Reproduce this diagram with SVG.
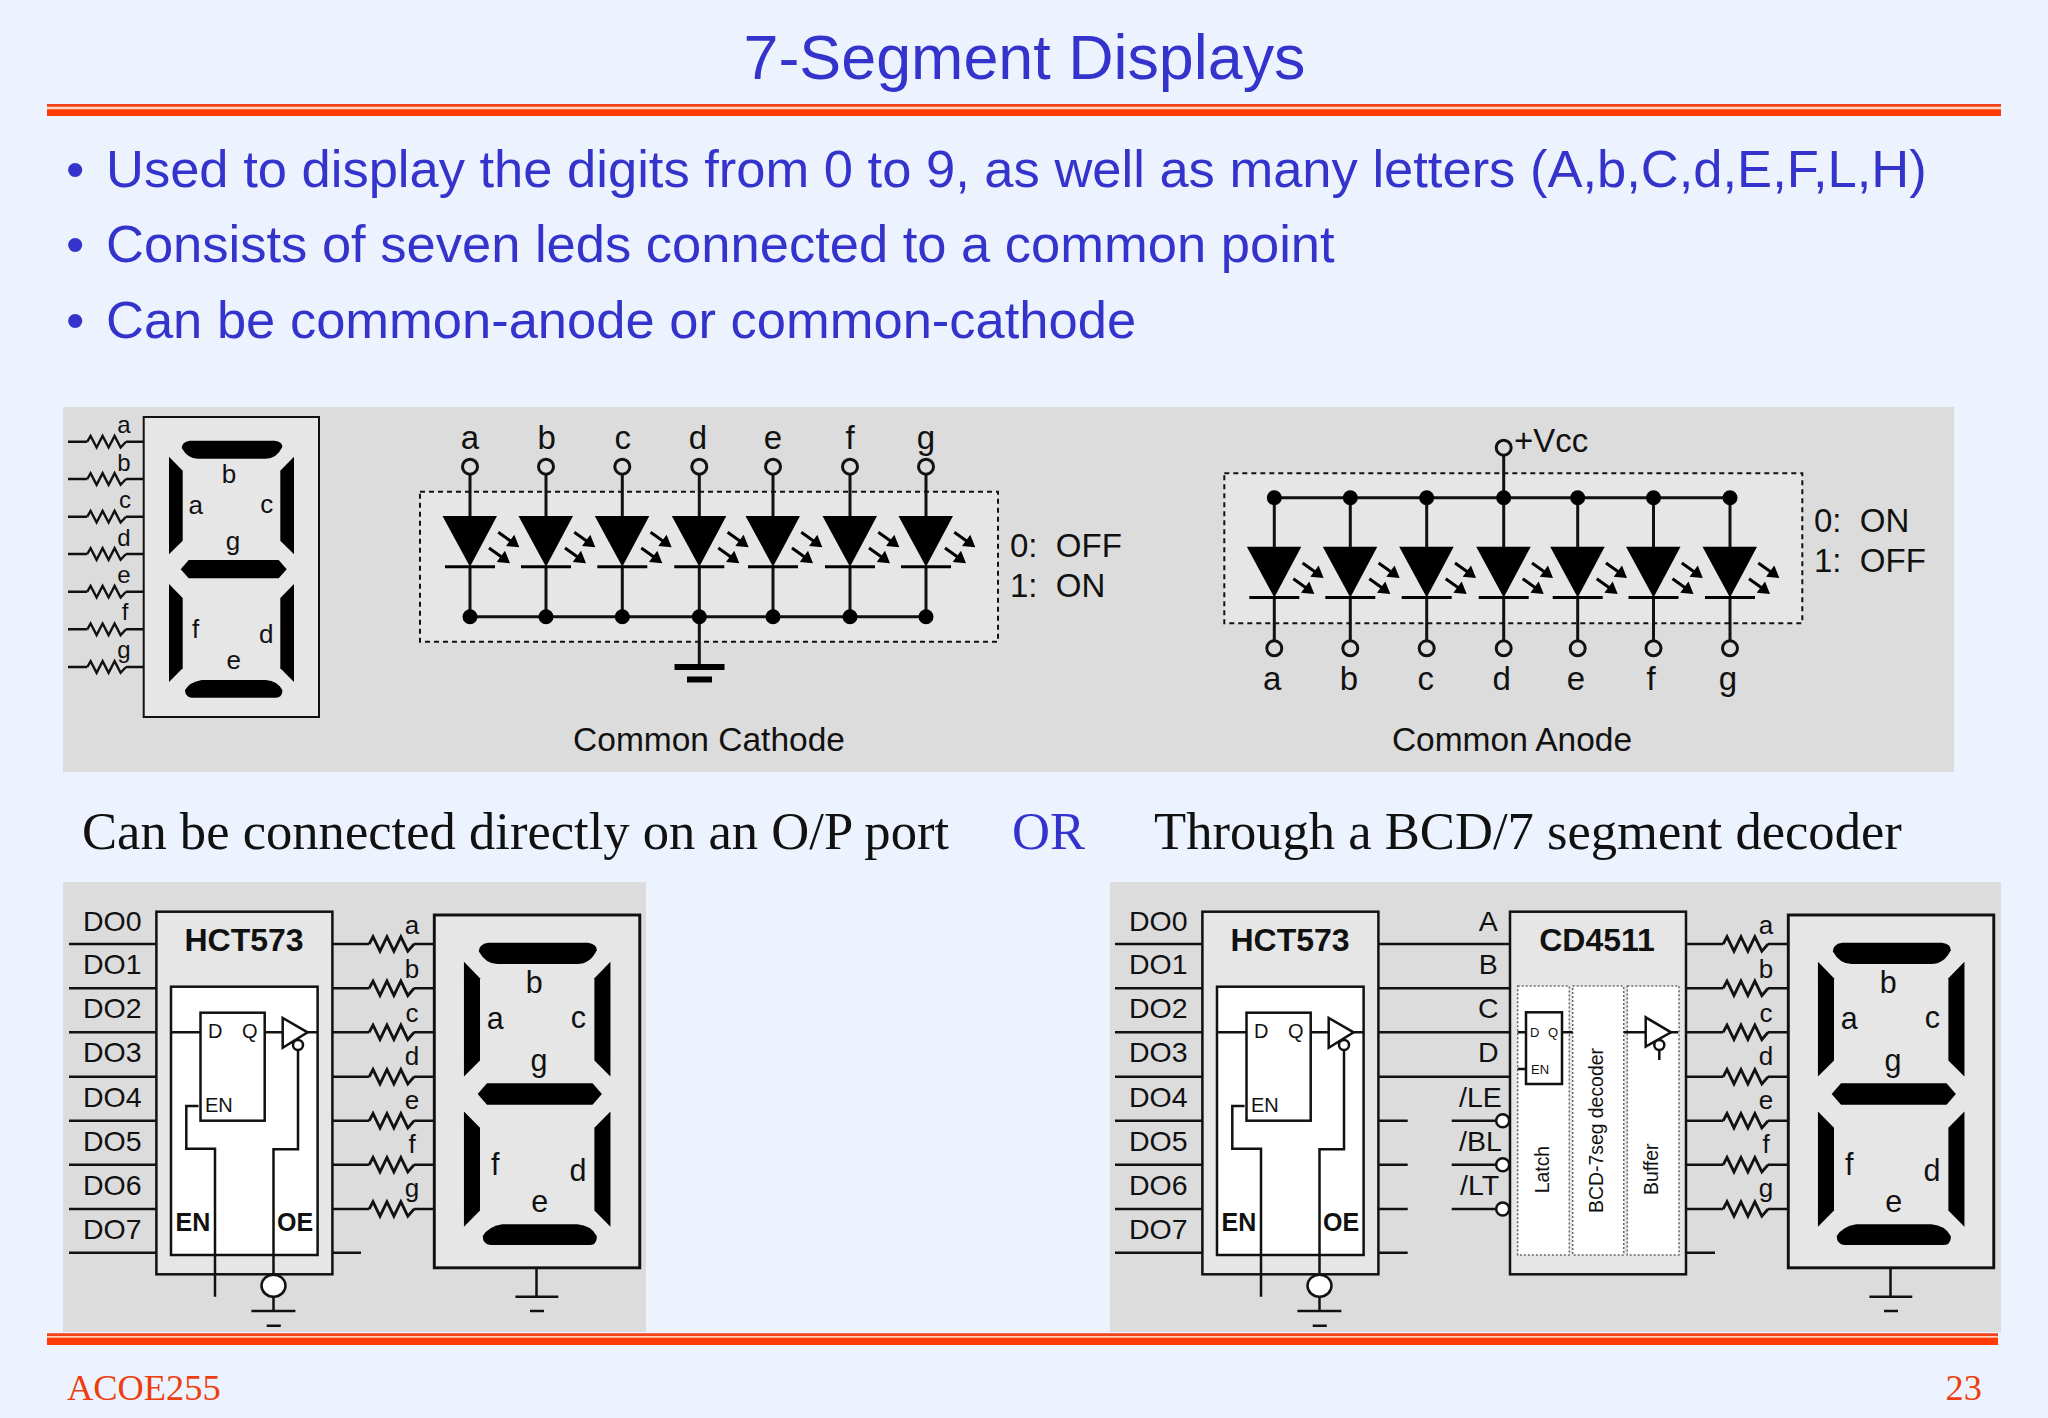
<svg xmlns="http://www.w3.org/2000/svg" xmlns:xlink="http://www.w3.org/1999/xlink" width="2048" height="1418" viewBox="0 0 2048 1418">
<style>
text{font-family:"Liberation Sans",Arial,sans-serif;fill:#111;white-space:pre}
.tm{font-family:"Liberation Serif","Times New Roman",serif}
.blue{fill:#3434cc}
.red{fill:#ee3e10}
.m{text-anchor:middle}
.b{font-weight:bold}
.w{fill:none;stroke:#111;stroke-width:3}
.t{fill:none;stroke:#111;stroke-width:2.5}
.box{fill:#e6e6e6;stroke:#111;stroke-width:2.5}
.wbox{fill:#fff;stroke:#111;stroke-width:2.5}
.dash{fill:#e6e6e6;stroke:#111;stroke-width:2;stroke-dasharray:5 4}
.dot{fill:#fff;stroke:#666;stroke-width:1.5;stroke-dasharray:2 2}
.wpin{fill:#fff;stroke:#111;stroke-width:2.5}
.l33{font-size:33px}.l335{font-size:33.5px}.l24{font-size:24px}.l26{font-size:26px}.l285{font-size:28.5px}.l32{font-size:32px}.l25{font-size:25px}
</style>
<defs>
<g id="segs" fill="#000">
<path d="M46,23.7H131Q139,25 138.6,30Q133,41.7 122,41.7H54Q44,41.7 38,31Q38,25 46,23.7Z"/>
<path d="M25.3,39.7L39,53.7V123.7L25.3,137.3Z"/>
<path d="M150.3,39.7L136.6,53.7V123.7L150.3,137.3Z"/>
<path d="M37,152.3L45,143H135L143,152.3L135,161.3H45Z"/>
<path d="M25.3,167L39,181V251.3L25.3,265Z"/>
<path d="M150.3,167L136.6,181V251.3L150.3,265Z"/>
<path d="M58,263H122Q134,264 138.6,273V275Q138,280.7 132,280.7H48Q41.3,280 41.3,273Q46,265 58,263Z"/>
</g>
<path id="res" fill="none" stroke="#111" stroke-width="2.4" d="M0,0L3.3,-5.8L9.3,5.8L15.3,-5.8L21.3,5.8L27.3,-5.8L33.3,5.8L38.7,0"/>
<g id="led">
<path d="M-27.5,0H27L0,50.7Z" fill="#000"/>
<path d="M-25,50.7H25" stroke="#000" stroke-width="3" fill="none"/>
<path d="M28.3,16.3L42,26M19,32L33,42" stroke="#000" stroke-width="3" fill="none"/>
<path d="M49.3,31.3L36,30L44.3,18.7ZM40,47.3L26.7,46L35,34.7Z" fill="#000"/>
</g>
</defs>
<rect width="2048" height="1418" fill="#edf3fe"/>
<g id="title">
<text class="blue m" x="1024.5" y="79" style="font-size:62.8px">7-Segment Displays</text>
<rect x="47" y="104" width="1954" height="12" fill="#fbd5bb"/>
<rect x="47" y="104" width="1954" height="2.7" fill="#f2401a"/>
<rect x="47" y="109.3" width="1954" height="6.7" fill="#ff3a08"/>
</g>
<g id="bullets" style="font-size:52.5px">
<text class="blue" x="66" y="187">•</text><text class="blue" x="106" y="187">Used to display the digits from 0 to 9, as well as many letters (A,b,C,d,E,F,L,H)</text>
<text class="blue" x="66" y="262">•</text><text class="blue" x="106" y="262">Consists of seven leds connected to a common point</text>
<text class="blue" x="66" y="338">•</text><text class="blue" x="106" y="338">Can be common-anode or common-cathode</text>
</g>
<rect id="panel-top" x="63" y="407" width="1891" height="365" fill="#dcdcdc"/>
<rect id="panel-bl" x="63" y="882" width="583" height="450" fill="#dcdcdc"/>
<rect id="panel-br" x="1110" y="882" width="891" height="450" fill="#dcdcdc"/>

<g id="connectors-top-display">
<path class="t" d="M68,441.7H87.3M126,441.7H144M68,479H87.3M126,479H144M68,516.7H87.3M126,516.7H144M68,554H87.3M126,554H144M68,591.7H87.3M126,591.7H144M68,629.3H87.3M126,629.3H144M68,667H87.3M126,667H144"/>
<use xlink:href="#res" href="#res" x="87.3" y="441.7"/><use xlink:href="#res" href="#res" x="87.3" y="479"/><use xlink:href="#res" href="#res" x="87.3" y="516.7"/><use xlink:href="#res" href="#res" x="87.3" y="554"/><use xlink:href="#res" href="#res" x="87.3" y="591.7"/><use xlink:href="#res" href="#res" x="87.3" y="629.3"/><use xlink:href="#res" href="#res" x="87.3" y="667"/>
</g>
<g id="res-labels-top" class="l24">
<text class="m" x="124" y="433">a</text><text class="m" x="124" y="470.7">b</text><text class="m" x="125" y="508">c</text><text class="m" x="124" y="545.7">d</text><text class="m" x="124" y="582.7">e</text><text class="m" x="125" y="620">f</text><text class="m" x="124" y="657.5">g</text>
</g>
<g id="display-top" transform="translate(143.7,417)" class="l26">
<rect class="box" width="175.3" height="300" style="stroke-width:2"/><use xlink:href="#segs" href="#segs"/>
<text class="m" x="85.3" y="66.3">b</text><text class="m" x="52" y="97.3">a</text><text class="m" x="123" y="96.3">c</text><text class="m" x="89.3" y="133">g</text><text class="m" x="52" y="220.7">f</text><text class="m" x="122.6" y="226.3">d</text><text class="m" x="90" y="252.3">e</text>
</g>

<g id="common-cathode">
<rect class="dash" x="420" y="491.7" width="578" height="150"/>
<path class="w" d="M470,475V516M546,475V516M622.3,475V516M699.3,475V516M773,475V516M850,475V516M926,475V516M470,566V617M546,566V617M622.3,566V617M699.3,566V667M773,566V617M850,566V617M926,566V617M470,616.7H926"/>
<g fill="#000"><circle cx="470" cy="616.7" r="7.5"/><circle cx="546" cy="616.7" r="7.5"/><circle cx="622.3" cy="616.7" r="7.5"/><circle cx="699.3" cy="616.7" r="7.5"/><circle cx="773" cy="616.7" r="7.5"/><circle cx="850" cy="616.7" r="7.5"/><circle cx="926" cy="616.7" r="7.5"/></g>
<g fill="none" stroke="#111" stroke-width="3"><circle cx="470" cy="466.7" r="7.5"/><circle cx="546" cy="466.7" r="7.5"/><circle cx="622.3" cy="466.7" r="7.5"/><circle cx="699.3" cy="466.7" r="7.5"/><circle cx="773" cy="466.7" r="7.5"/><circle cx="850" cy="466.7" r="7.5"/><circle cx="926" cy="466.7" r="7.5"/></g>
<use xlink:href="#led" href="#led" x="470" y="516"/><use xlink:href="#led" href="#led" x="546" y="516"/><use xlink:href="#led" href="#led" x="622.3" y="516"/><use xlink:href="#led" href="#led" x="699.3" y="516"/><use xlink:href="#led" href="#led" x="773" y="516"/><use xlink:href="#led" href="#led" x="850" y="516"/><use xlink:href="#led" href="#led" x="926" y="516"/>
<rect x="674.5" y="664" width="50" height="6" fill="#000"/><rect x="687" y="676.5" width="25" height="6" fill="#000"/>
<g class="l33"><text class="m" x="470" y="449">a</text><text class="m" x="546.7" y="449">b</text><text class="m" x="622.7" y="449">c</text><text class="m" x="698" y="449">d</text><text class="m" x="773" y="449">e</text><text class="m" x="850" y="449">f</text><text class="m" x="926" y="449">g</text>
<text x="1010" y="557">0:  OFF</text><text x="1010" y="597">1:  ON</text></g>
<text class="m l335" x="709" y="751">Common Cathode</text>
</g>

<g id="common-anode">
<rect class="dash" x="1224.3" y="473.3" width="578" height="150"/>
<path class="w" d="M1274.3,497.7V547M1350.3,497.7V547M1426.7,497.7V547M1503.7,456V547M1577.7,497.7V547M1653.5,497.7V547M1730,497.7V547M1274.3,597V640M1350.3,597V640M1426.7,597V640M1503.7,597V640M1577.7,597V640M1653.5,597V640M1730,597V640M1274.3,497.7H1730"/>
<g fill="#000"><circle cx="1274.3" cy="497.7" r="7.5"/><circle cx="1350.3" cy="497.7" r="7.5"/><circle cx="1426.7" cy="497.7" r="7.5"/><circle cx="1503.7" cy="497.7" r="7.5"/><circle cx="1577.7" cy="497.7" r="7.5"/><circle cx="1653.5" cy="497.7" r="7.5"/><circle cx="1730" cy="497.7" r="7.5"/></g>
<g fill="none" stroke="#111" stroke-width="3"><circle cx="1503.7" cy="447.7" r="7.5"/><circle cx="1274.3" cy="648.3" r="7.5"/><circle cx="1350.3" cy="648.3" r="7.5"/><circle cx="1426.7" cy="648.3" r="7.5"/><circle cx="1503.7" cy="648.3" r="7.5"/><circle cx="1577.7" cy="648.3" r="7.5"/><circle cx="1653.5" cy="648.3" r="7.5"/><circle cx="1730" cy="648.3" r="7.5"/></g>
<use xlink:href="#led" href="#led" x="1274.3" y="546.7"/><use xlink:href="#led" href="#led" x="1350.3" y="546.7"/><use xlink:href="#led" href="#led" x="1426.7" y="546.7"/><use xlink:href="#led" href="#led" x="1503.7" y="546.7"/><use xlink:href="#led" href="#led" x="1577.7" y="546.7"/><use xlink:href="#led" href="#led" x="1653.5" y="546.7"/><use xlink:href="#led" href="#led" x="1730" y="546.7"/>
<g class="l33"><text x="1514" y="452">+Vcc</text><text class="m" x="1272.3" y="690">a</text><text class="m" x="1349" y="690">b</text><text class="m" x="1425.7" y="690">c</text><text class="m" x="1501.7" y="690">d</text><text class="m" x="1576" y="690">e</text><text class="m" x="1651" y="690">f</text><text class="m" x="1728" y="690">g</text>
<text x="1814" y="532">0:  ON</text><text x="1814" y="572">1:  OFF</text></g>
<text class="m l335" x="1512" y="751">Common Anode</text>
</g>

<g id="captions" style="font-size:52.6px">
<text class="tm" x="82" y="849">Can be connected directly on an O/P port</text>
<text class="tm blue" x="1012" y="849">OR</text>
<text class="tm" x="1154" y="849">Through a BCD/7 segment decoder</text>
</g>

<g id="hct573-left">
<path class="t" d="M69,944H157M69,988.3H157M69,1032.3H157M69,1076.7H157M69,1120.7H157M69,1164.7H157M69,1209H157M69,1252.7H157"/>
<rect class="box" x="156.4" y="911.7" width="176" height="362.6"/>
<rect class="wbox" x="171" y="986.7" width="146.6" height="268.3"/>
<rect class="wbox" x="200.5" y="1012.7" width="64.2" height="108"/>
<path class="t" d="M171,1032.3H200.5M264.7,1032.3H283M307,1032.3H317.6M198.5,1106H186.3V1148.7H215V1296.7M298,1050V1149.3H273.5V1275M273.5,1296V1311M251.4,1311H295.4M266.7,1325.7H280.8"/>
<path class="wbox" d="M282.7,1018V1047.7L307.6,1032.3Z"/>
<circle class="wpin" cx="298" cy="1045" r="5"/>
<ellipse class="wpin" cx="273.5" cy="1285.7" rx="12" ry="11"/>
<g class="l285"><text x="83" y="930.7">DO0</text><text x="83" y="974.3">DO1</text><text x="83" y="1018.3">DO2</text><text x="83" y="1062.3">DO3</text><text x="83" y="1106.7">DO4</text><text x="83" y="1150.7">DO5</text><text x="83" y="1194.7">DO6</text><text x="83" y="1238.7">DO7</text></g>
<text class="m b l32" x="244" y="951">HCT573</text>
<text class="b l25" x="175.5" y="1230.7">EN</text><text class="b l25" x="277" y="1230.7">OE</text>
<g style="font-size:20px"><text x="208" y="1038.3">D</text><text x="242" y="1038.3">Q</text><text x="205" y="1111.7">EN</text></g>
</g>
<g id="outputs-left">
<path class="t" d="M332.5,944H369.2M414,944H434.3M332.5,988.3H369.2M414,988.3H434.3M332.5,1032.3H369.2M414,1032.3H434.3M332.5,1076.7H369.2M414,1076.7H434.3M332.5,1120.7H369.2M414,1120.7H434.3M332.5,1164.7H369.2M414,1164.7H434.3M332.5,1209H369.2M414,1209H434.3M332.5,1252.7H361"/>
<g transform="translate(369.2,944) scale(1.16,1.25)"><use xlink:href="#res" href="#res"/></g><g transform="translate(369.2,988.3) scale(1.16,1.25)"><use xlink:href="#res" href="#res"/></g><g transform="translate(369.2,1032.3) scale(1.16,1.25)"><use xlink:href="#res" href="#res"/></g><g transform="translate(369.2,1076.7) scale(1.16,1.25)"><use xlink:href="#res" href="#res"/></g><g transform="translate(369.2,1120.7) scale(1.16,1.25)"><use xlink:href="#res" href="#res"/></g><g transform="translate(369.2,1164.7) scale(1.16,1.25)"><use xlink:href="#res" href="#res"/></g><g transform="translate(369.2,1209) scale(1.16,1.25)"><use xlink:href="#res" href="#res"/></g>
<g class="l26"><text class="m" x="412" y="934">a</text><text class="m" x="412" y="977.7">b</text><text class="m" x="412" y="1021.7">c</text><text class="m" x="412" y="1065.3">d</text><text class="m" x="412" y="1109.3">e</text><text class="m" x="412" y="1153.3">f</text><text class="m" x="412" y="1196.7">g</text></g>
</g>
<g id="display-left" transform="translate(434.3,915) scale(1.172,1.176)" class="l26">
<rect class="box" width="175.3" height="300"/><use xlink:href="#segs" href="#segs"/>
<text class="m" x="85.3" y="66.3">b</text><text class="m" x="52" y="97.3">a</text><text class="m" x="123" y="96.3">c</text><text class="m" x="89.3" y="133">g</text><text class="m" x="52" y="220.7">f</text><text class="m" x="122.6" y="226.3">d</text><text class="m" x="90" y="252.3">e</text>
</g>
<path id="ground-left" class="t" d="M536.5,1267.7V1296.7M515.4,1296.7H558.3M530,1311H544"/>

<g id="hct573-right" transform="translate(1046,0)">
<path class="t" d="M69,944H157M69,988.3H157M69,1032.3H157M69,1076.7H157M69,1120.7H157M69,1164.7H157M69,1209H157M69,1252.7H157"/>
<rect class="box" x="156.4" y="911.7" width="176" height="362.6"/>
<rect class="wbox" x="171" y="986.7" width="146.6" height="268.3"/>
<rect class="wbox" x="200.5" y="1012.7" width="64.2" height="108"/>
<path class="t" d="M171,1032.3H200.5M264.7,1032.3H283M307,1032.3H317.6M198.5,1106H186.3V1148.7H215V1296.7M298,1050V1149.3H273.5V1275M273.5,1296V1311M251.4,1311H295.4M266.7,1325.7H280.8"/>
<path class="wbox" d="M282.7,1018V1047.7L307.6,1032.3Z"/>
<circle class="wpin" cx="298" cy="1045" r="5"/>
<ellipse class="wpin" cx="273.5" cy="1285.7" rx="12" ry="11"/>
<g class="l285"><text x="83" y="930.7">DO0</text><text x="83" y="974.3">DO1</text><text x="83" y="1018.3">DO2</text><text x="83" y="1062.3">DO3</text><text x="83" y="1106.7">DO4</text><text x="83" y="1150.7">DO5</text><text x="83" y="1194.7">DO6</text><text x="83" y="1238.7">DO7</text></g>
<text class="m b l32" x="244" y="951">HCT573</text>
<text class="b l25" x="175.5" y="1230.7">EN</text><text class="b l25" x="277" y="1230.7">OE</text>
<g style="font-size:20px"><text x="208" y="1038.3">D</text><text x="242" y="1038.3">Q</text><text x="205" y="1111.7">EN</text></g>
</g>
<g id="links-right">
<path class="t" d="M1378,944H1510M1378,988.3H1510M1378,1032.3H1510M1378,1076.7H1510M1378,1120.7H1407.7M1378,1164.7H1407.7M1378,1209H1407.7M1378,1252.7H1407.7M1451.7,1120.7H1496M1451.7,1164.7H1496M1451.7,1209H1496"/>
</g>
<g id="cd4511">
<rect class="box" x="1510" y="911.7" width="176" height="362.6"/>
<rect class="dot" x="1517.7" y="986" width="51.6" height="269"/>
<rect class="dot" x="1572.7" y="986" width="51" height="269"/>
<rect class="dot" x="1627.3" y="986" width="51.7" height="269"/>
<circle class="wpin" cx="1502.7" cy="1120.7" r="6.5"/><circle class="wpin" cx="1502.7" cy="1164.7" r="6.5"/><circle class="wpin" cx="1502.7" cy="1209" r="6.5"/>
<rect class="wbox" x="1526" y="1012.3" width="36" height="71.7"/>
<path class="t" d="M1517.7,1032.3H1526M1517.7,1069H1526M1562,1032.3H1572.7M1623.7,1032.3H1646M1671,1032.3H1678.3M1659.3,1050V1060"/>
<path class="wbox" d="M1645.7,1017.3V1046.7L1671,1032.3Z"/>
<circle class="wpin" cx="1659.3" cy="1045" r="5"/>
<g class="l285"><text class="m" x="1488.3" y="930.7">A</text><text class="m" x="1488.3" y="974">B</text><text class="m" x="1488.3" y="1018">C</text><text class="m" x="1488.3" y="1062">D</text><text x="1459" y="1106.7">/LE</text><text x="1459" y="1150.7">/BL</text><text x="1460" y="1195">/LT</text></g>
<text class="m b l32" x="1597" y="951">CD4511</text>
<g style="font-size:13px"><text x="1530" y="1036.7">D</text><text x="1548" y="1036.7">Q</text><text x="1531" y="1074">EN</text></g>
<g style="font-size:19.4px"><text transform="translate(1549,1193.3) rotate(-90)">Latch</text><text transform="translate(1602.7,1213) rotate(-90)">BCD-7seg decoder</text><text transform="translate(1657.7,1195) rotate(-90)">Buffer</text></g>
</g>
<g id="outputs-right" transform="translate(1354,0)">
<path class="t" d="M332,944H369.2M414,944H434.3M332,988.3H369.2M414,988.3H434.3M332,1032.3H369.2M414,1032.3H434.3M332,1076.7H369.2M414,1076.7H434.3M332,1120.7H369.2M414,1120.7H434.3M332,1164.7H369.2M414,1164.7H434.3M332,1209H369.2M414,1209H434.3M332,1252.7H361"/>
<g transform="translate(369.2,944) scale(1.16,1.25)"><use xlink:href="#res" href="#res"/></g><g transform="translate(369.2,988.3) scale(1.16,1.25)"><use xlink:href="#res" href="#res"/></g><g transform="translate(369.2,1032.3) scale(1.16,1.25)"><use xlink:href="#res" href="#res"/></g><g transform="translate(369.2,1076.7) scale(1.16,1.25)"><use xlink:href="#res" href="#res"/></g><g transform="translate(369.2,1120.7) scale(1.16,1.25)"><use xlink:href="#res" href="#res"/></g><g transform="translate(369.2,1164.7) scale(1.16,1.25)"><use xlink:href="#res" href="#res"/></g><g transform="translate(369.2,1209) scale(1.16,1.25)"><use xlink:href="#res" href="#res"/></g>
<g class="l26"><text class="m" x="412" y="934">a</text><text class="m" x="412" y="977.7">b</text><text class="m" x="412" y="1021.7">c</text><text class="m" x="412" y="1065.3">d</text><text class="m" x="412" y="1109.3">e</text><text class="m" x="412" y="1153.3">f</text><text class="m" x="412" y="1196.7">g</text></g>
</g>
<g id="display-right" transform="translate(1788.3,915) scale(1.172,1.176)" class="l26">
<rect class="box" width="175.3" height="300"/><use xlink:href="#segs" href="#segs"/>
<text class="m" x="85.3" y="66.3">b</text><text class="m" x="52" y="97.3">a</text><text class="m" x="123" y="96.3">c</text><text class="m" x="89.3" y="133">g</text><text class="m" x="52" y="220.7">f</text><text class="m" x="122.6" y="226.3">d</text><text class="m" x="90" y="252.3">e</text>
</g>
<path id="ground-right" class="t" d="M1890.5,1267.7V1296.7M1869.4,1296.7H1912.3M1884,1311H1898"/>

<g id="footer">
<rect x="47" y="1333.3" width="1951" height="11.7" fill="#fbd5bb"/>
<rect x="47" y="1333.3" width="1951" height="2.7" fill="#f2401a"/>
<rect x="47" y="1337.7" width="1951" height="7.3" fill="#ff3a08"/>
<text class="tm red" x="67" y="1400" style="font-size:36.4px">ACOE255</text>
<text class="tm red" x="1982" y="1400" text-anchor="end" style="font-size:36.4px">23</text>
</g>
</svg>
